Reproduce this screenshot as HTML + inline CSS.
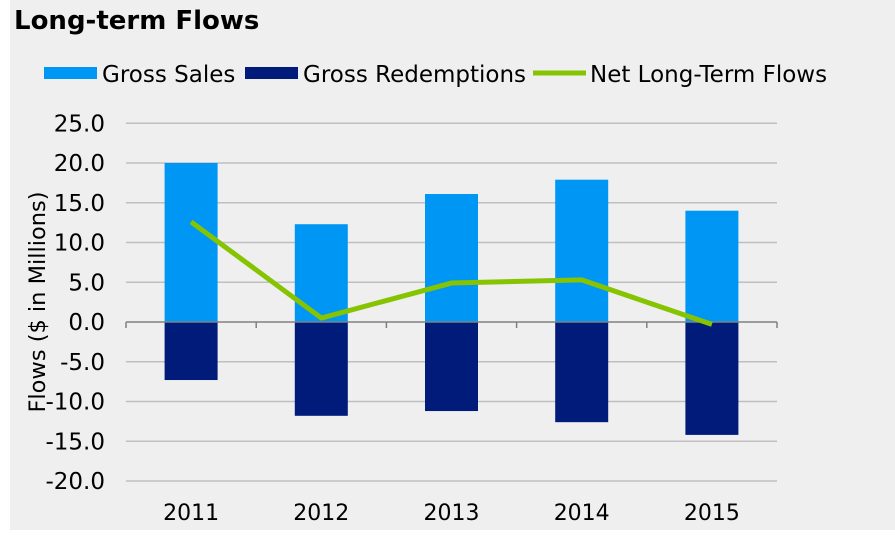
<!DOCTYPE html>
<html><head><meta charset="utf-8"><style>
body{margin:0;background:#fff;}
svg{display:block;font-family:"DejaVu Sans","Liberation Sans",sans-serif;}
</style></head><body>
<svg id="c" width="895" height="538">
<rect x="10" y="0" width="885" height="530" fill="#efefef"/>
<text x="14" y="29" font-size="26" font-weight="bold" fill="#000">Long-term Flows</text>
<g>
<rect x="44" y="67" width="53" height="12" fill="#0097f4"/>
<text x="102" y="82" font-size="23">Gross Sales</text>
<rect x="245" y="67" width="53" height="12" fill="#001b7a"/>
<text x="303" y="82" font-size="23">Gross Redemptions</text>
<line x1="533" y1="73" x2="586" y2="73" stroke="#86c300" stroke-width="5"/>
<text x="590" y="82" font-size="23">Net Long-Term Flows</text>
</g>
<text transform="translate(45,302) rotate(-90)" text-anchor="middle" font-size="22.5">Flows ($ in Millions)</text>
<g id="grid"></g><g id="bars"></g><g id="axis"></g><g id="line"></g>
</svg>
<script>
const categories=["2011","2012","2013","2014","2015"];
const grossSales=[20.0,12.3,16.1,17.9,14.0];
const grossRedemptions=[-7.3,-11.8,-11.2,-12.6,-14.2];
const netFlows=[12.6,0.5,4.9,5.3,-0.3];
const yTicks=[25,20,15,10,5,0,-5,-10,-15,-20];
const NS="http://www.w3.org/2000/svg";
const L=126,R=777,Y0=322,K=7.95;
const y=v=>Y0-v*K;
const slot=(R-L)/categories.length;
const xc=i=>L+slot*(i+0.5);
function mk(t,a,p){const e=document.createElementNS(NS,t);for(const k in a)e.setAttribute(k,a[k]);p.appendChild(e);return e;}
const grid=document.getElementById('grid'),bars=document.getElementById('bars'),axis=document.getElementById('axis'),line=document.getElementById('line');
yTicks.forEach(v=>{
 if(v!==0){const g=mk('line',{x1:L,x2:R,y1:y(v),y2:y(v),stroke:'#bfbfbf','stroke-width':1.5},grid);
 
 }
 const t=mk('text',{x:L-21,y:y(v)+8,'text-anchor':'end','font-size':23},axis);
 t.textContent=v.toFixed(1);
 
 
});
const bw=53;
categories.forEach((c,i)=>{
 const b1=mk('rect',{x:xc(i)-bw/2,y:y(grossSales[i]),width:bw,height:grossSales[i]*K,fill:'#0097f4'},bars);
 
 
 const b2=mk('rect',{x:xc(i)-bw/2,y:Y0,width:bw,height:-grossRedemptions[i]*K,fill:'#001b7a'},bars);
 
 
 const t=mk('text',{x:xc(i),y:520,'text-anchor':'middle','font-size':22},axis);
 t.textContent=c;
 
 
});
const ax=mk('line',{x1:L,x2:R,y1:Y0,y2:Y0,stroke:'#808080','stroke-width':1.5},axis);


for(let i=0;i<=categories.length;i++){
 const tk=mk('line',{x1:L+slot*i,x2:L+slot*i,y1:Y0,y2:Y0+6,stroke:'#808080','stroke-width':1.5},axis);
 
 
}
const pl=mk('polyline',{points:netFlows.map((v,i)=>xc(i)+','+y(v)).join(' '),fill:'none',stroke:'#86c300','stroke-width':5,'stroke-linejoin':'round'},line);


</script>
</body></html>
